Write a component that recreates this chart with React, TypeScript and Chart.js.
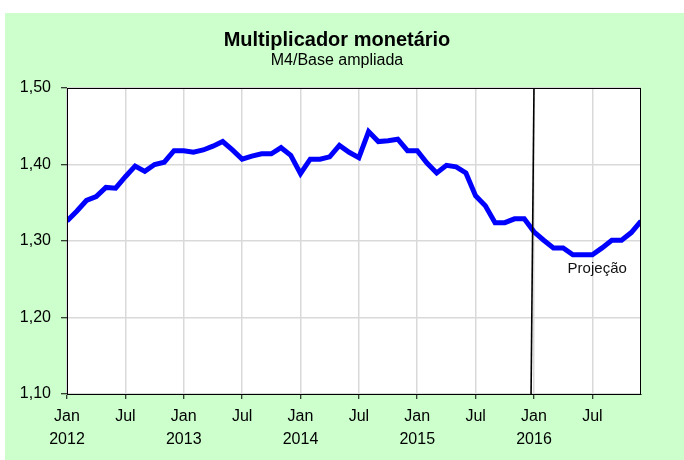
import React, { useEffect, useRef } from "react";
import { Chart, registerables } from "chart.js";

Chart.register(...registerables);

const years = ["2012", "2013", "2014", "2015", "2016"];
const months = ["Jan", "Fev", "Mar", "Abr", "Mai", "Jun", "Jul", "Ago", "Set", "Out", "Nov", "Dez"];

const multiplier = [
  // 2012
  1.326, 1.339, 1.353, 1.358, 1.370, 1.369, 1.384, 1.398, 1.391, 1.400, 1.403, 1.418,
  // 2013
  1.418, 1.416, 1.419, 1.424, 1.430, 1.419, 1.407, 1.411, 1.414, 1.414, 1.422, 1.412,
  // 2014
  1.388, 1.407, 1.407, 1.410, 1.425, 1.416, 1.409, 1.443, 1.430, 1.431, 1.433, 1.418,
  // 2015
  1.418, 1.402, 1.389, 1.399, 1.397, 1.389, 1.359, 1.346, 1.324, 1.324, 1.329, 1.329,
  // 2016
  1.312, 1.301, 1.291, 1.291, 1.282, 1.282, 1.282, 1.291, 1.301, 1.301, 1.311, 1.326,
];

const yTicks = [1.1, 1.2, 1.3, 1.4, 1.5];
const xTicks = [0, 6, 12, 18, 24, 30, 36, 42, 48, 54];
const projectionLine = [
  { x: 47.7, y: 1.1 },
  { x: 48.0, y: 1.5 },
];
const projectionLabel = { text: "Projeção", x: 54.5, y: 1.264 };
const titleText = "Multiplicador monetário";
const subtitleText = "M4/Base ampliada";

const FONT = "'Liberation Sans', Arial, sans-serif";

export default function App() {
  const ref = useRef<HTMLCanvasElement | null>(null);

  useEffect(() => {
    if (!ref.current) return;
    const points = multiplier.map((v, i) => ({ x: i, y: v }));

    const framePlugin = {
      id: "frameAndText",
      beforeDraw(chart: any) {
        const { ctx, chartArea } = chart;
        ctx.save();
        ctx.fillStyle = "#fff";
        ctx.fillRect(chartArea.left, chartArea.top, chartArea.right - chartArea.left, chartArea.bottom - chartArea.top);
        ctx.restore();
      },
      afterDraw(chart: any) {
        const { ctx, chartArea, scales } = chart;
        ctx.save();
        ctx.strokeStyle = "#000";
        ctx.lineWidth = 1;
        ctx.strokeRect(chartArea.left + 0.5, chartArea.top + 0.5, chartArea.right - chartArea.left - 1, chartArea.bottom - chartArea.top);
        ctx.fillStyle = "#000";
        ctx.textAlign = "center";
        ctx.textBaseline = "middle";
        ctx.font = `bold 20px ${FONT}`;
        ctx.fillText(titleText, 332, 27);
        ctx.font = `16px ${FONT}`;
        ctx.fillText(subtitleText, 332, 48);
        ctx.font = `15px ${FONT}`;
        ctx.fillStyle = "#111";
        ctx.fillText(projectionLabel.text, scales.x.getPixelForValue(projectionLabel.x), scales.y.getPixelForValue(projectionLabel.y));
        ctx.restore();
      },
    };

    const chart = new Chart(ref.current, {
      type: "scatter",
      data: {
        datasets: [
          {
            data: points,
            showLine: true,
            borderColor: "#0000FF",
            borderWidth: 5,
            pointRadius: 0,
            tension: 0,
            order: 2,
          } as any,
          {
            data: projectionLine,
            showLine: true,
            borderColor: "#000",
            borderWidth: 1.6,
            pointRadius: 0,
            order: 1,
          } as any,
        ],
      },
      options: {
        responsive: false,
        animation: false,
        layout: { padding: { top: 75, right: 43, left: 0, bottom: 0 } },
        plugins: {
          legend: { display: false },
          tooltip: { enabled: false },
          title: { display: false },
        },
        scales: {
          x: {
            type: "linear",
            min: 0,
            max: 59,
            afterFit: (s: any) => {
              s.height = 66;
            },
            afterBuildTicks: (s: any) => {
              s.ticks = xTicks.map((v) => ({ value: v }));
            },
            ticks: {
              autoSkip: false,
              maxRotation: 0,
              padding: 6,
              color: "#000",
              font: { family: FONT, size: 16, lineHeight: 1.45 },
              callback: (v: any) => {
                const i = Math.round(Number(v));
                const m = months[i % 12];
                if (i % 12 === 0) return [m, years[Math.floor(i / 12)]];
                return m;
              },
            },
            grid: {
              color: "#d9d9d9",
              lineWidth: 1.5,
              tickLength: 5,
              tickColor: "#000",
              tickWidth: 1,
            },
            border: { color: "#000", width: 1 },
          },
          y: {
            type: "linear",
            min: 1.1,
            max: 1.5,
            afterFit: (s: any) => {
              s.width = 62;
            },
            afterBuildTicks: (s: any) => {
              s.ticks = yTicks.map((v) => ({ value: v }));
            },
            ticks: {
              padding: 10,
              color: "#000",
              font: { family: FONT, size: 16 },
              callback: (v: any) => Number(v).toFixed(2).replace(".", ","),
            },
            grid: {
              color: "#d9d9d9",
              lineWidth: 1.5,
              tickLength: 6,
              tickColor: "#000",
              tickWidth: 1,
            },
            border: { color: "#000", width: 1 },
          },
        },
      },
      plugins: [framePlugin],
    });
    return () => chart.destroy();
  }, []);

  return (
    <div
      style={{
        position: "fixed",
        left: 5,
        top: 13,
        width: 679,
        height: 447,
        background: "#CCFFCC",
      }}
    >
      <canvas ref={ref} width={679} height={447} style={{ display: "block", width: 679, height: 447 }} />
    </div>
  );
}
